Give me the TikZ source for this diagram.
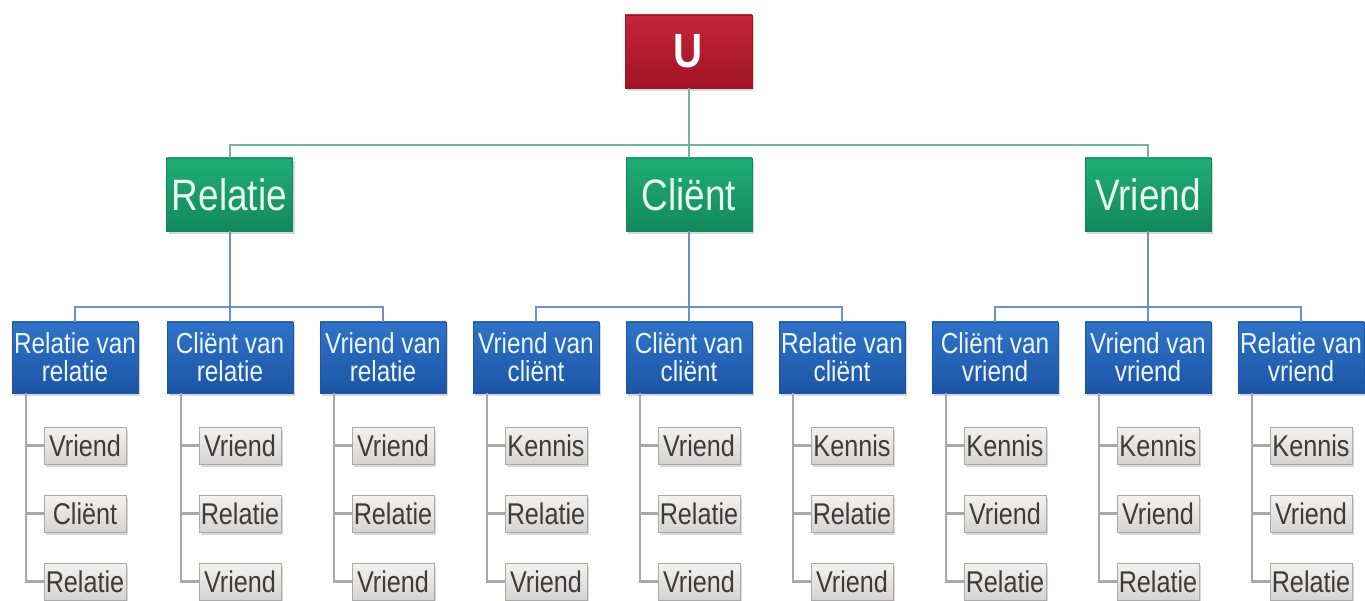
\documentclass[tikz,border=0pt]{standalone}
\usepackage{fontspec}
\setmainfont{Liberation Sans}[FakeStretch=0.84]
\usetikzlibrary{shadows}
\definecolor{rootT}{HTML}{C4253A}
\definecolor{rootB}{HTML}{A01322}
\definecolor{grT}{HTML}{20AD78}
\definecolor{grB}{HTML}{12895C}
\definecolor{blT}{HTML}{2F73C8}
\definecolor{blB}{HTML}{1D55A6}
\definecolor{lfT}{HTML}{F4F2F0}
\definecolor{lfB}{HTML}{D6D4D1}
\definecolor{lfD}{HTML}{AAAAAA}
\definecolor{lnA}{HTML}{72B49C}
\definecolor{lnB}{HTML}{6E8FC9}
\definecolor{lnC}{HTML}{A8A8A8}
\definecolor{txtL}{HTML}{EAF6F2}
\definecolor{txtD}{HTML}{3C3C3C}
\begin{document}
\begin{tikzpicture}[x=1pt,y=-1pt,
  shad/.style={drop shadow={opacity=0.3,shadow xshift=2pt,shadow yshift=-3pt}},
  rootbox/.style={rectangle,minimum width=127pt,minimum height=73pt,inner sep=0pt,
    top color=rootT,bottom color=rootB,draw=rootB,text=white,shad,
    font=\fontsize{48}{48}\selectfont\bfseries},
  lvlone/.style={rectangle,minimum width=126pt,minimum height=73pt,inner sep=0pt,
    top color=grT,bottom color=grB,draw=grB,text=txtL,shad,
    font=\fontsize{44}{44}\selectfont},
  lvltwo/.style={rectangle,minimum width=126pt,minimum height=71pt,inner sep=0pt,
    top color=blT,bottom color=blB,draw=blB,text=txtL,shad,align=center,
    font=\fontsize{29}{28}\selectfont},
  leafbox/.style={rectangle,minimum width=82pt,minimum height=37pt,inner sep=0pt,
    top color=lfT,bottom color=lfB,draw=lfD,line width=0.8pt,text=txtD,shad,
    font=\fontsize{30}{30}\selectfont},
  lna/.style={draw=lnA,line width=2pt},
  lnb/.style={draw=lnB,line width=2pt},
  lnc/.style={draw=lnC,line width=2.5pt}]
\useasboundingbox[fill=white] (0,0) rectangle (1365,601);

\node[rootbox] (U) at (688.5,51.5) {U};
\node[lvlone] (A) at (229.5,194.5) {Relatie};
\node[lvlone] (B) at (689,194.5) {Cliënt};
\node[lvlone] (C) at (1148,194.5) {Vriend};
\foreach \p in {A,B,C}{\draw[lna] (U.south) -- ++(0,57) -| (\p.north);}

\foreach \i/\cx/\txt/\la/\lb/\lc/\p in {
  1/75/{Relatie van\\relatie}/Vriend/Cliënt/Relatie/A,
  2/230/{Cliënt van\\relatie}/Vriend/Relatie/Vriend/A,
  3/383/{Vriend van\\relatie}/Vriend/Relatie/Vriend/A,
  4/536/{Vriend van\\cliënt}/Kennis/Relatie/Vriend/B,
  5/689/{Cliënt van\\cliënt}/Vriend/Relatie/Vriend/B,
  6/842/{Relatie van\\cliënt}/Kennis/Relatie/Vriend/B,
  7/995/{Cliënt van\\vriend}/Kennis/Vriend/Relatie/C,
  8/1148/{Vriend van\\vriend}/Kennis/Vriend/Relatie/C,
  9/1301/{Relatie van\\vriend}/Kennis/Vriend/Relatie/C}{
  \node[lvltwo] (c\i) at (\cx,357.5) {\txt};
  \draw[lnb] (\p.south) -- ++(0,76) -| (c\i.north);
  \node[leafbox] (c\i a) at (\cx+10,445.5) {\la};
  \node[leafbox] (c\i b) at (\cx+10,513.5) {\lb};
  \node[leafbox] (c\i c) at (\cx+10,581.5) {\lc};
  \foreach \s in {a,b,c}{\draw[lnc] ([xshift=14pt]c\i.south west) |- (c\i\s.west);}
}
\end{tikzpicture}
\end{document}
